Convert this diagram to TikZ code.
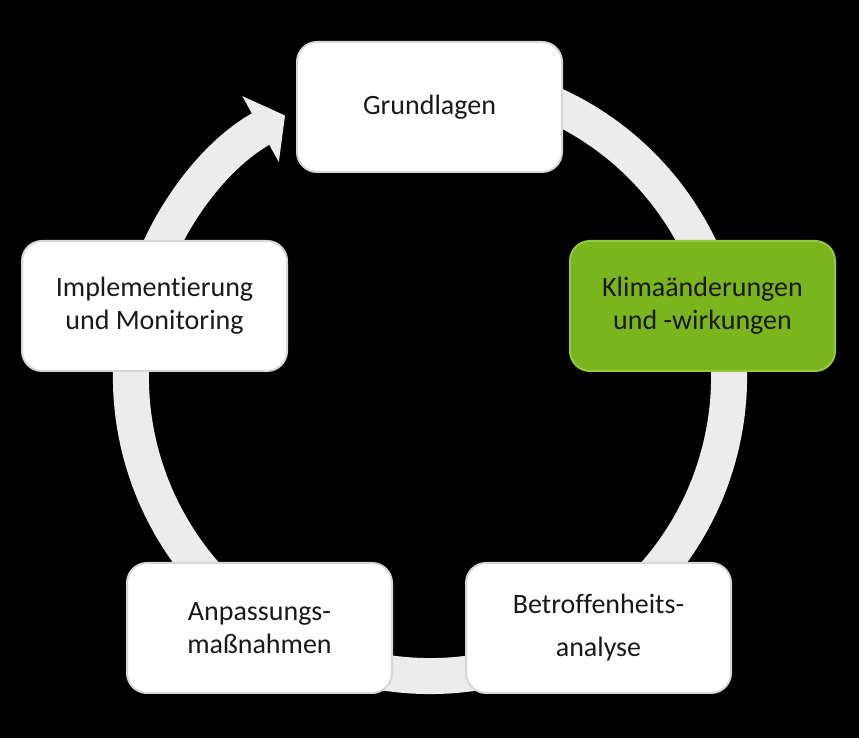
\documentclass[tikz,border=0pt]{standalone}
\usepackage{fontspec}
\setmainfont[Ligatures=NoCommon]{Carlito}
\usepackage{tikz}
\usetikzlibrary{arrows.meta}
\usepackage{xcolor}
\definecolor{ringGrey}{RGB}{236, 236, 236}
\definecolor{klimaGreen}{RGB}{122, 181, 29}
\definecolor{klimaRim}{RGB}{150, 200, 60}
\definecolor{boxRim}{RGB}{214, 214, 214}

\begin{document}
\begin{tikzpicture}[x=1pt, y=1pt,
        stage/.style={draw=boxRim, line width=2pt, fill=white, rounded corners=20pt,
            minimum width=265pt, minimum height=130pt, align=center, text=black!90,
            font=\fontsize{28}{33}\selectfont},
        ring/.style={draw=ringGrey, line width=36pt,
            -{Triangle[width=74pt, length=28pt, fill=ringGrey]}}]
                \fill[black] (0,0) rectangle (859,738);
                \useasboundingbox (0,0) rectangle (859,738);
                \coordinate (hub) at (430,361);
                \draw[ring] (hub) ++(75:299) arc[start angle=75, end angle=-241, radius=299];
                \node[stage] (grund) at (429.5,631) {Grundlagen};
                \node[stage, fill=klimaGreen, draw=klimaRim] (klima) at (702.5,432) {Klimaänderungen\\und -wirkungen};
                \node[stage] (betroff) at (598.5,110) {Betroffenheits-\\[10pt]analyse};
                \node[stage] (anpass) at (259.5,110) {Anpassungs-\\maßnahmen};
                \node[stage] (monitor) at (154.5,432) {Implementierung\\und Monitoring};
            \end{tikzpicture}
\end{document}
